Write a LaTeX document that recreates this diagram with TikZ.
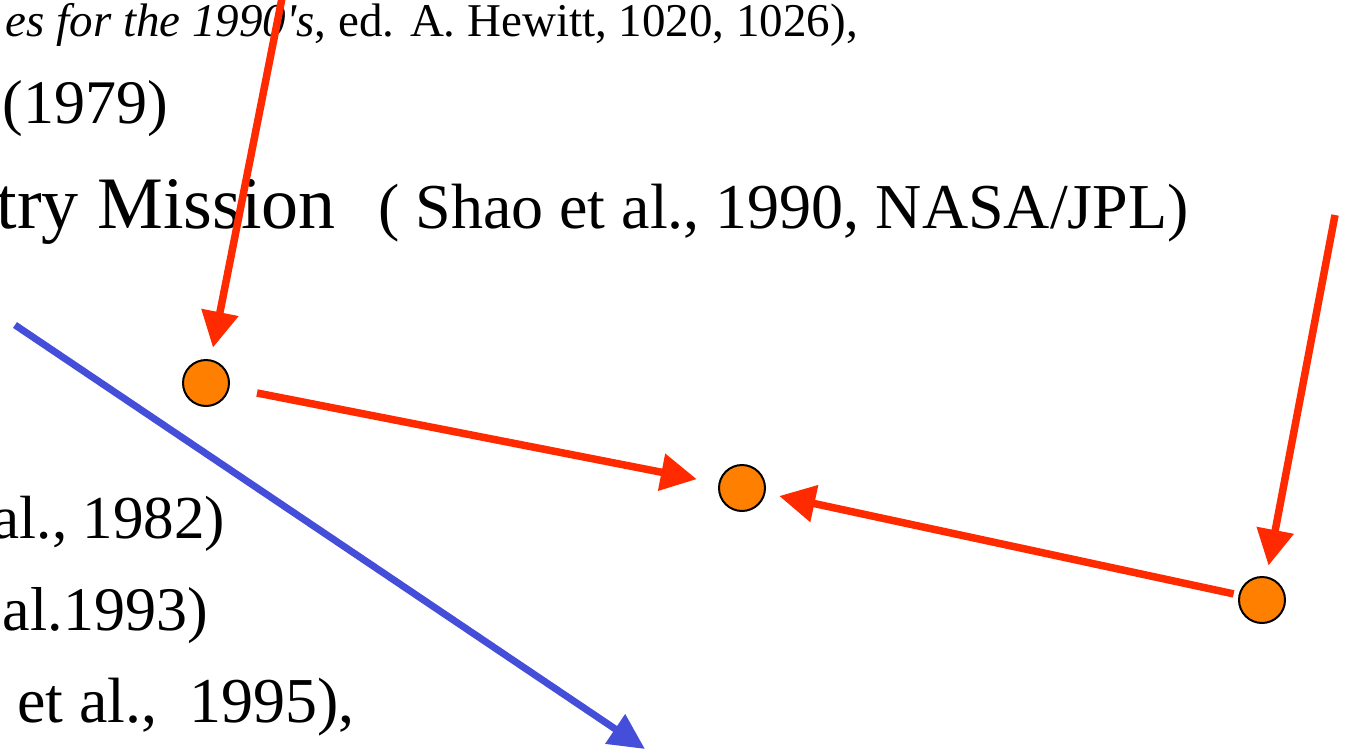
\documentclass[tikz,border=0pt]{standalone}
\usepackage{fontspec}
\setmainfont{Liberation Serif}
\usepackage{xcolor}
\usetikzlibrary{arrows.meta, positioning}
\definecolor{arrowred}{RGB}{255,42,0}
\definecolor{dotorange}{RGB}{255,128,0}
\definecolor{pathblue}{RGB}{68,78,216}

\begin{document}
\begin{tikzpicture}[x=1pt, y=-1pt,
  dot/.style={circle, draw=black, line width=2pt, fill=dotorange,
              minimum size=46pt, inner sep=0pt},
  redarrow/.style={-{Triangle[length=36pt, width=36pt]}, draw=arrowred,
                   fill=arrowred, line width=7.5pt},
  bluearrow/.style={-{Triangle[length=36pt, width=34pt]}, draw=pathblue,
                    fill=pathblue, line width=7pt},
  ref/.style={inner sep=0pt, font=\fontsize{64}{64}\selectfont},
  every node/.style={align=left}
]
\path[use as bounding box, clip] (0,0) rectangle (1348,752);

% Reference lines (cut off on the left)
\node[ref, anchor=base east, font=\fontsize{47}{47}\selectfont] (cite_top) at (858,37)
      {\itshape es for the 1990\textquotesingle s\upshape, ed. A. Hewitt, 1020, 1026),};
\node[ref, anchor=base east, font=\fontsize{62}{62}\selectfont] (cite_79) at (168,123) {(1979)};
\node[ref, anchor=base east, font=\fontsize{74}{74}\selectfont] (mission) at (336,228)
      {try Mission};
\node[ref, anchor=base west] (shao) at (378,228) {( Shao et al., 1990, NASA/JPL)};
\node[ref, anchor=base east, font=\fontsize{61}{61}\selectfont] (cite_82) at (225,538) {al., 1982)};
\node[ref, anchor=base east, font=\fontsize{62}{62}\selectfont] (cite_93) at (208,630) {al.1993)};
\node[ref, anchor=base east] (cite_95) at (355,722) {et al.,\ \ 1995),};

% Positions
\node[dot] (p1) at (206,383) {};
\node[dot] (p2) at (742,488) {};
\node[dot] (p3) at (1262,600) {};

\coordinate (top_in)   at (284,-12);
\coordinate (right_in) at (1335,215);
\coordinate (blue_from) at (15,325);
\coordinate (blue_to)   at (645,749);

% Motion arrows
\draw[redarrow, shorten >=12pt] (top_in) -- (p1);
\draw[redarrow, shorten <=28pt, shorten >=22pt] (p1) -- (p2);
\draw[redarrow, shorten <=5pt, shorten >=14pt] (p3) -- (p2);
\draw[redarrow, shorten >=11pt] (right_in) -- (p3);
\draw[bluearrow] (blue_from) -- (blue_to);

\end{tikzpicture}
\end{document}
